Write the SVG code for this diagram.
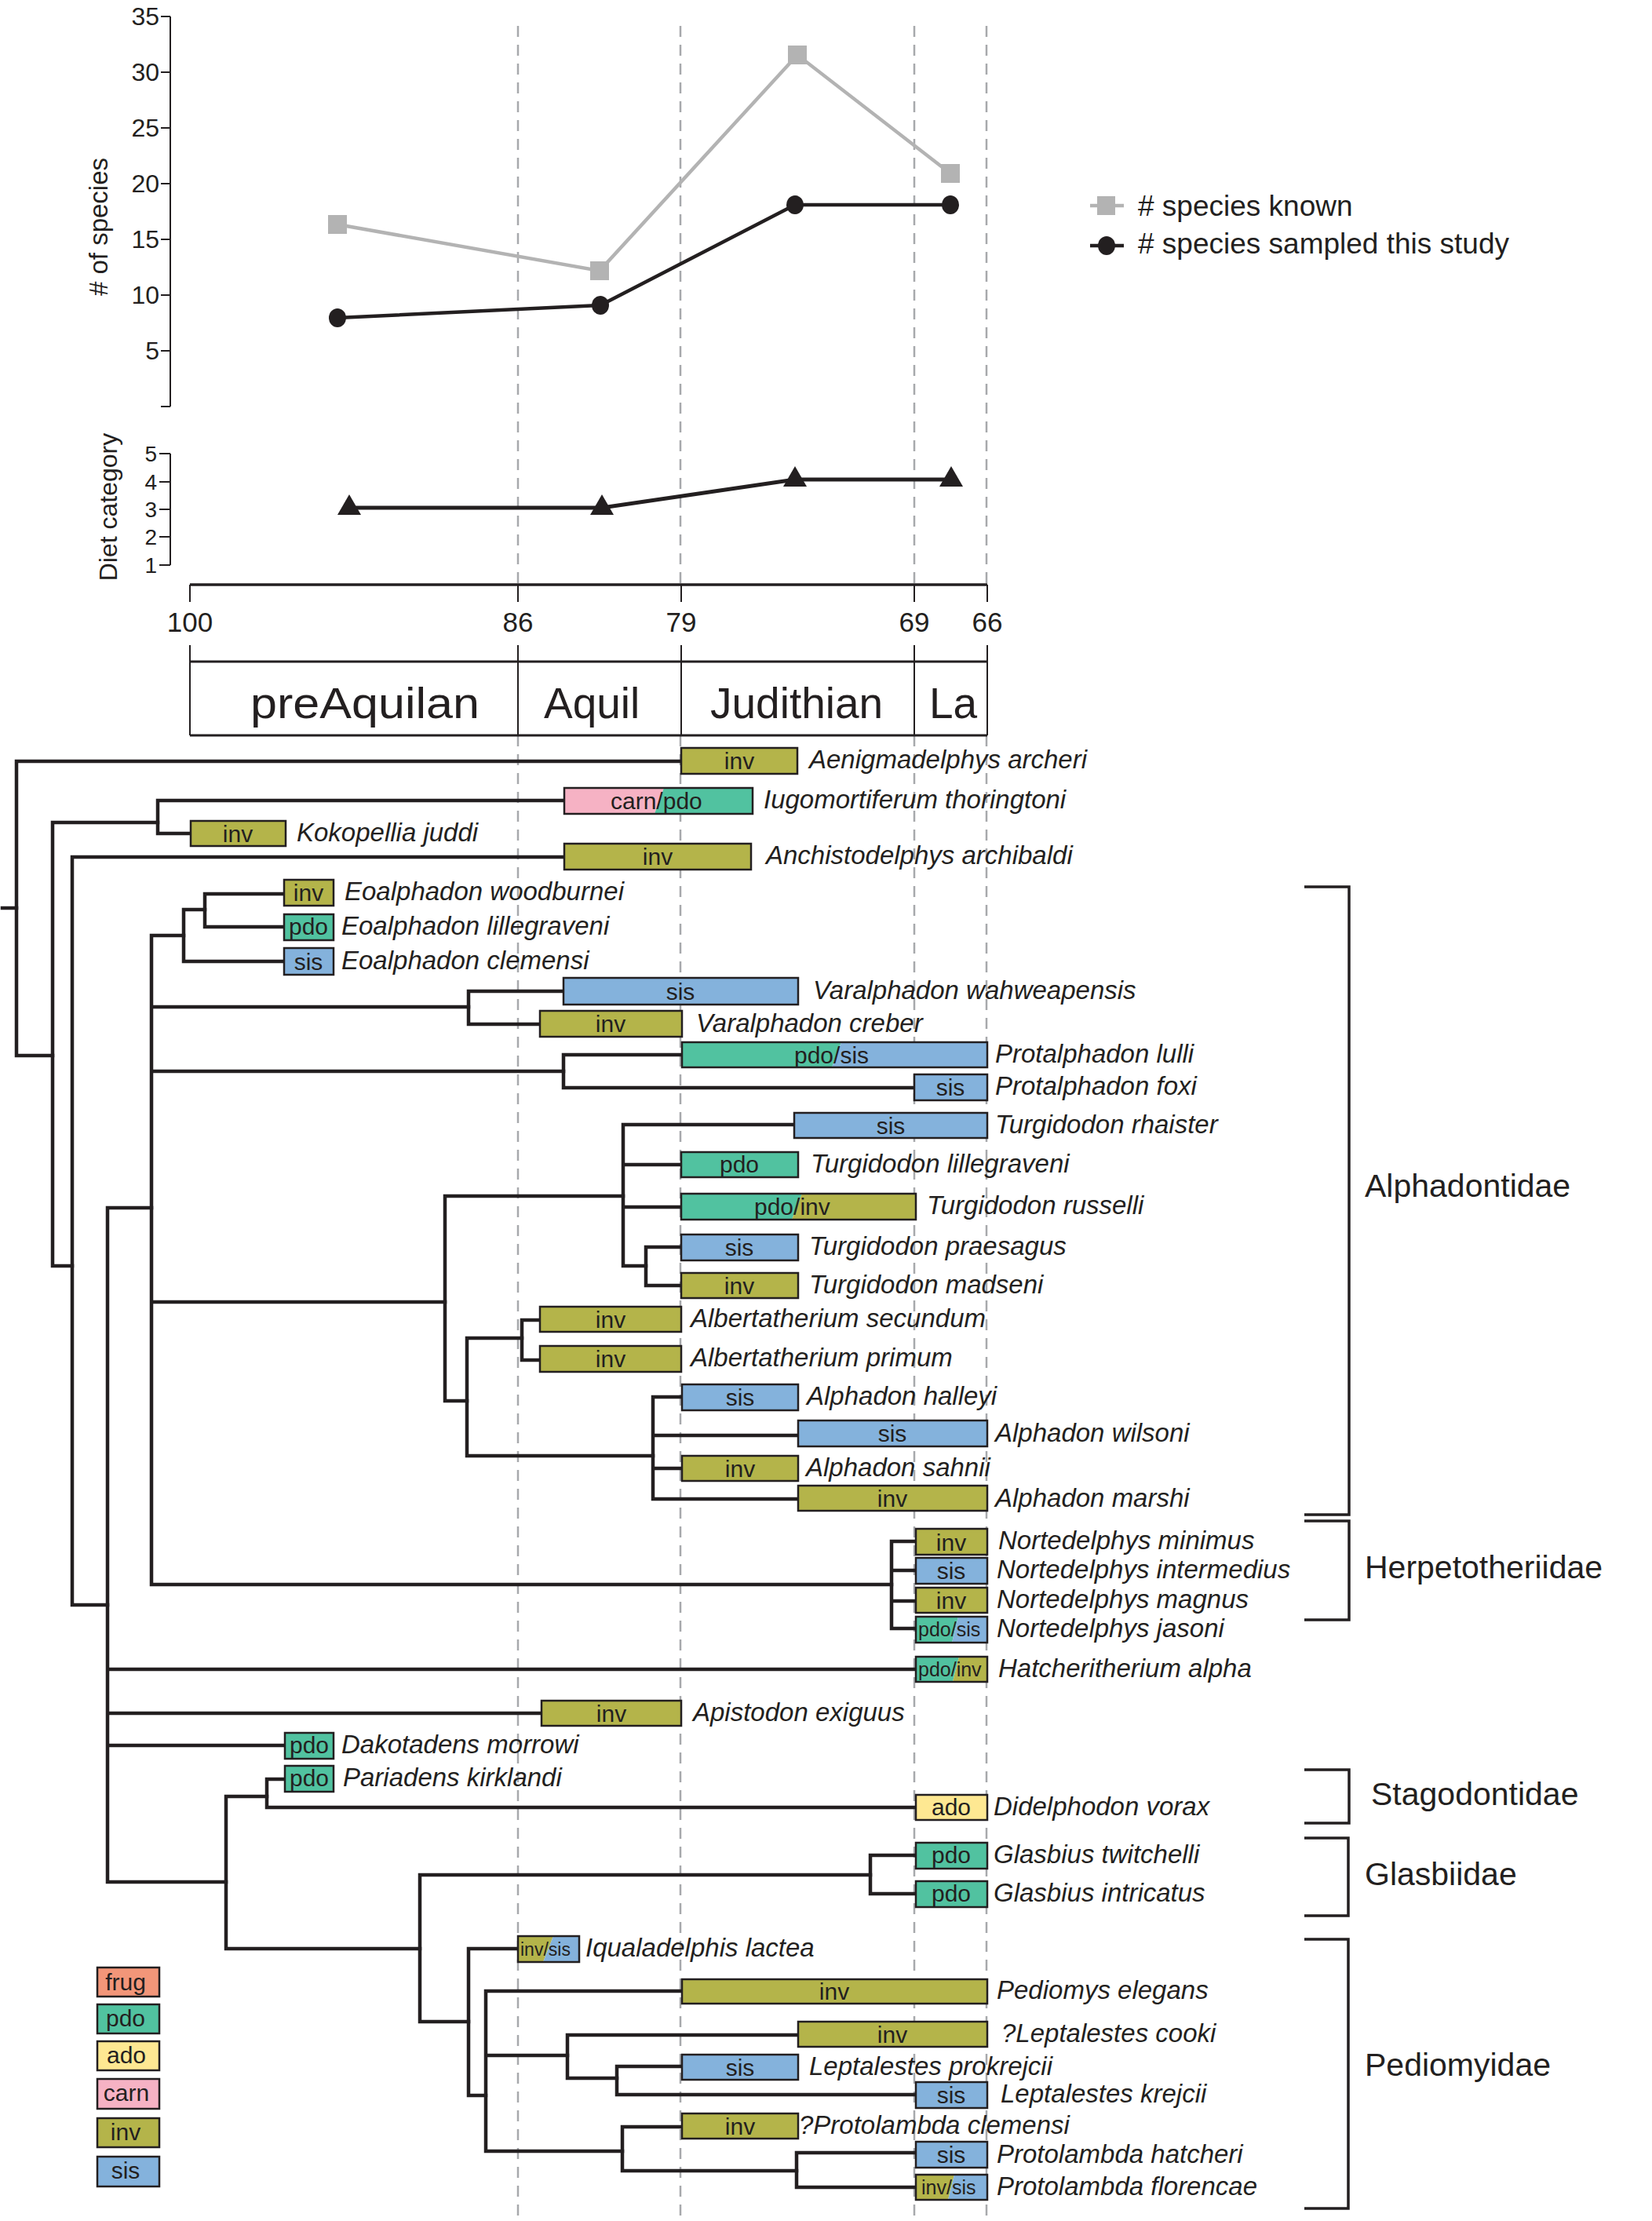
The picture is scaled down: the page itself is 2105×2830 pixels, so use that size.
<svg xmlns="http://www.w3.org/2000/svg" width="2105" height="2830" viewBox="0 0 2105 2830">
<defs>
<style>
text{font-family:"Liberation Sans",Arial,sans-serif;fill:#231f20}
.ax{stroke:#231f20;stroke-width:2;fill:none}
.dash{stroke:#a7a9ac;stroke-width:2.5;stroke-dasharray:14 10;fill:none}
.tr{stroke:#231f20;stroke-width:4.5;fill:none;stroke-linecap:square}
.bx{stroke:#231f20;stroke-width:2.5}
.ol{stroke:#231f20;stroke-width:2.5;fill:none}
.inv{fill:#b4b44a}.sis{fill:#84b2dc}.pdo{fill:#51c2a0}.ado{fill:#fee892}.carn{fill:#f6b2c4}.frug{fill:#f29679}
.bt{font-size:30px;text-anchor:middle}
.bs{font-size:25px}
.lb{font-size:33px;font-style:italic}
.grp{font-size:41px}
.tick{font-size:32px;text-anchor:end}
.dtick{font-size:28px;text-anchor:end}
.tax{font-size:35px;text-anchor:middle}
.per{font-size:55px}
.leg{font-size:37px}
.brk{stroke:#231f20;stroke-width:3.5;fill:none}
</style>
</defs>

<!-- dashed time lines -->
<g id="timelines">
<path class="dash" d="M660,33 V745 M867,33 V745 M1165,33 V745 M1257,33 V745"/>
<path class="dash" d="M660,937 V2830 M867,937 V2830 M1165,937 V2830 M1257,937 V2830"/>
</g>

<!-- species chart -->
<g id="species-chart">
<path class="ax" d="M217,21 V518 M205,21 H217 M205,92 H217 M205,163 H217 M205,234 H217 M205,305 H217 M205,376 H217 M205,447 H217 M205,518 H217"/>
<text class="tick" x="203" y="32">35</text>
<text class="tick" x="203" y="103">30</text>
<text class="tick" x="203" y="174">25</text>
<text class="tick" x="203" y="245">20</text>
<text class="tick" x="203" y="316">15</text>
<text class="tick" x="203" y="387">10</text>
<text class="tick" x="203" y="458">5</text>
<text x="137" y="289" font-size="33" text-anchor="middle" transform="rotate(-90 137 289)"># of species</text>
<polyline points="430,286 764,345 1016,70 1211,221" stroke="#b3b3b3" stroke-width="4.5" fill="none"/>
<g fill="#b3b3b3">
<rect x="418" y="274" width="24" height="24"/>
<rect x="752" y="333" width="24" height="24"/>
<rect x="1004" y="58" width="24" height="24"/>
<rect x="1199" y="209" width="24" height="24"/>
</g>
<polyline points="430,405 765,389 1013,261 1211,261" stroke="#231f20" stroke-width="4.5" fill="none"/>
<g fill="#231f20">
<ellipse cx="430" cy="405" rx="11" ry="12"/>
<ellipse cx="765" cy="389" rx="11" ry="12"/>
<ellipse cx="1013" cy="261" rx="11" ry="12"/>
<ellipse cx="1211" cy="261" rx="11" ry="12"/>
</g>
</g>

<!-- legend top -->
<g id="legend-lines">
<path d="M1389,262 H1432" stroke="#b3b3b3" stroke-width="4.5"/>
<rect x="1398" y="250" width="23" height="24" fill="#b3b3b3"/>
<text class="leg" x="1450" y="275"># species known</text>
<path d="M1389,313 H1432" stroke="#231f20" stroke-width="4.5"/>
<ellipse cx="1410" cy="313" rx="11" ry="12" fill="#231f20"/>
<text class="leg" x="1450" y="323"># species sampled this study</text>
</g>

<!-- diet chart -->
<g id="diet-chart">
<path class="ax" d="M217,578 V720 M203,578 H217 M203,614 H217 M203,649 H217 M203,684 H217 M203,720 H217"/>
<text class="dtick" x="200" y="588">5</text>
<text class="dtick" x="200" y="624">4</text>
<text class="dtick" x="200" y="659">3</text>
<text class="dtick" x="200" y="694">2</text>
<text class="dtick" x="200" y="730">1</text>
<text x="149" y="646" font-size="32" text-anchor="middle" transform="rotate(-90 149 646)">Diet category</text>
<polyline points="445,647 767,647 1013,611 1212,611" stroke="#231f20" stroke-width="5" fill="none"/>
<g fill="#231f20">
<polygon points="445,630 430,656 460,656"/>
<polygon points="767,630 752,656 782,656"/>
<polygon points="1013,594 998,620 1028,620"/>
<polygon points="1212,594 1197,620 1227,620"/>
</g>
</g>

<!-- time axis -->
<g id="time-axis">
<path d="M242,745 H1258" stroke="#231f20" stroke-width="3.5"/>
<path class="ax" d="M242,745 V767 M660,745 V767 M868,745 V767 M1165,745 V767 M1258,745 V767"/>
<text class="tax" x="242" y="805">100</text>
<text class="tax" x="660" y="805">86</text>
<text class="tax" x="868" y="805">79</text>
<text class="tax" x="1165" y="805">69</text>
<text class="tax" x="1258" y="805">66</text>
</g>

<!-- period box -->
<g id="periods">
<path d="M242,843 H1258 M242,937 H1258" stroke="#231f20" stroke-width="3"/>
<path class="ax" d="M242,822 V937 M660,822 V937 M868,822 V937 M1165,822 V937 M1258,822 V937"/>
<text class="per" x="319" y="915" textLength="292" lengthAdjust="spacingAndGlyphs">preAquilan</text>
<text class="per" x="693" y="915">Aquil</text>
<text class="per" x="905" y="915">Judithian</text>
<text class="per" x="1184" y="915">La</text>
</g>

<!-- connectors -->
<g id="connectors" class="tr">
<path d="M3,1157 H21"/>
<path d="M868,970 H21 V1345 H67"/>
<path d="M201,1048 H67 V1613 H92"/>
<path d="M719,1020 H201 V1062 H243"/>
<path d="M719,1092 H92 V2045 H137"/>
<path d="M193,1539 H137 V2398 H288 M137,2127 H1167 M137,2183 H690 M137,2224 H363"/>
<path d="M234,1192 H193 V2019 H1136 M193,1283 H597 M193,1365 H718 M193,1659 H567"/>
<path d="M261,1159 H234 V1225 H362"/>
<path d="M362,1139 H261 V1181 H362"/>
<path d="M718,1263 H597 V1305 H688"/>
<path d="M869,1344 H718 V1386 H1165"/>
<path d="M794,1524 H567 V1785 H595"/>
<path d="M1012,1433 H794 V1613 H823 M794,1484 H868 M794,1538 H868"/>
<path d="M868,1589 H823 V1638 H868"/>
<path d="M665,1705 H595 V1855 H832"/>
<path d="M688,1682 H665 V1733 H688"/>
<path d="M869,1780 H832 V1910 H1017 M832,1829 H1017 M832,1871 H869"/>
<path d="M1167,1964 H1136 V2075 H1167 M1136,2001 H1167 M1136,2040 H1167"/>
<path d="M340,2289 H288 V2483 H535"/>
<path d="M363,2267 H340 V2303 H1167"/>
<path d="M1109,2389 H535 V2576 H597"/>
<path d="M1167,2364 H1109 V2413 H1167"/>
<path d="M660,2483 H597 V2670 H619"/>
<path d="M869,2537 H619 V2741 H793 M619,2619 H723"/>
<path d="M1017,2593 H723 V2648 H786"/>
<path d="M869,2633 H786 V2669 H1167"/>
<path d="M869,2710 H793 V2766 H1015"/>
<path d="M1167,2743 H1015 V2787 H1167"/>
</g>

<!-- tips -->
<g id="aenigmadelphys-archeri"><rect class="bx inv" x="868" y="953" width="148" height="33"/><text class="bt" x="942" y="980">inv</text><text class="lb" x="1031" y="979">Aenigmadelphys archeri</text></g>
<g id="iugomortiferum-thoringtoni"><polygon class="carn" points="719,1004 846,1004 834,1037 719,1037"/><polygon class="pdo" points="846,1004 959,1004 959,1037 834,1037"/><rect class="ol" x="719" y="1004" width="240" height="33"/><text x="778" y="1031" font-size="30">carn/pdo</text><text class="lb" x="973" y="1030">Iugomortiferum thoringtoni</text></g>
<g id="kokopellia-juddi"><rect class="bx inv" x="243" y="1046" width="121" height="32"/><text class="bt" x="303" y="1073">inv</text><text class="lb" x="378" y="1072">Kokopellia juddi</text></g>
<g id="anchistodelphys-archibaldi"><rect class="bx inv" x="719" y="1075" width="238" height="33"/><text class="bt" x="838" y="1102">inv</text><text class="lb" x="976" y="1101">Anchistodelphys archibaldi</text></g>
<g id="eoalphadon-woodburnei"><rect class="bx inv" x="362" y="1121" width="63" height="33"/><text class="bt" x="393" y="1148">inv</text><text class="lb" x="439" y="1147">Eoalphadon woodburnei</text></g>
<g id="eoalphadon-lillegraveni"><rect class="bx pdo" x="362" y="1165" width="63" height="33"/><text class="bt" x="393" y="1191">pdo</text><text class="lb" x="435" y="1191">Eoalphadon lillegraveni</text></g>
<g id="eoalphadon-clemensi"><rect class="bx sis" x="362" y="1208" width="63" height="34"/><text class="bt" x="393" y="1236">sis</text><text class="lb" x="435" y="1235">Eoalphadon clemensi</text></g>
<g id="varalphadon-wahweapensis"><rect class="bx sis" x="718" y="1246" width="299" height="34"/><text class="bt" x="867" y="1274">sis</text><text class="lb" x="1036" y="1273">Varalphadon wahweapensis</text></g>
<g id="varalphadon-creber"><rect class="bx inv" x="688" y="1288" width="181" height="33"/><text class="bt" x="778" y="1315">inv</text><text class="lb" x="887" y="1315">Varalphadon creber</text></g>
<g id="protalphadon-lulli"><polygon class="pdo" points="869,1328 1072,1328 1060,1360 869,1360"/><polygon class="sis" points="1072,1328 1258,1328 1258,1360 1060,1360"/><rect class="ol" x="869" y="1328" width="389" height="32"/><text x="1012" y="1355" font-size="30">pdo/sis</text><text class="lb" x="1268" y="1354">Protalphadon lulli</text></g>
<g id="protalphadon-foxi"><rect class="bx sis" x="1165" y="1369" width="93" height="33"/><text class="bt" x="1211" y="1396">sis</text><text class="lb" x="1268" y="1395">Protalphadon foxi</text></g>
<g id="turgidodon-rhaister"><rect class="bx sis" x="1012" y="1418" width="246" height="32"/><text class="bt" x="1135" y="1445">sis</text><text class="lb" x="1268" y="1444">Turgidodon rhaister</text></g>
<g id="turgidodon-lillegraveni"><rect class="bx pdo" x="868" y="1468" width="149" height="32"/><text class="bt" x="942" y="1494">pdo</text><text class="lb" x="1033" y="1494">Turgidodon lillegraveni</text></g>
<g id="turgidodon-russelli"><polygon class="pdo" points="868,1521 1022,1521 1009,1554 868,1554"/><polygon class="inv" points="1022,1521 1167,1521 1167,1554 1009,1554"/><rect class="ol" x="868" y="1521" width="299" height="33"/><text x="961" y="1548" font-size="30">pdo/inv</text><text class="lb" x="1181" y="1547">Turgidodon russelli</text></g>
<g id="turgidodon-praesagus"><rect class="bx sis" x="868" y="1573" width="149" height="33"/><text class="bt" x="942" y="1600">sis</text><text class="lb" x="1031" y="1599">Turgidodon praesagus</text></g>
<g id="turgidodon-madseni"><rect class="bx inv" x="868" y="1622" width="149" height="32"/><text class="bt" x="942" y="1649">inv</text><text class="lb" x="1031" y="1648">Turgidodon madseni</text></g>
<g id="albertatherium-secundum"><rect class="bx inv" x="688" y="1665" width="180" height="32"/><text class="bt" x="778" y="1692">inv</text><text class="lb" x="880" y="1691">Albertatherium secundum</text></g>
<g id="albertatherium-primum"><rect class="bx inv" x="688" y="1715" width="180" height="33"/><text class="bt" x="778" y="1742">inv</text><text class="lb" x="880" y="1741">Albertatherium primum</text></g>
<g id="alphadon-halleyi"><rect class="bx sis" x="869" y="1764" width="148" height="33"/><text class="bt" x="943" y="1791">sis</text><text class="lb" x="1028" y="1790">Alphadon halleyi</text></g>
<g id="alphadon-wilsoni"><rect class="bx sis" x="1017" y="1810" width="241" height="33"/><text class="bt" x="1137" y="1837">sis</text><text class="lb" x="1268" y="1837">Alphadon wilsoni</text></g>
<g id="alphadon-sahnii"><rect class="bx inv" x="869" y="1855" width="148" height="32"/><text class="bt" x="943" y="1882">inv</text><text class="lb" x="1027" y="1881">Alphadon sahnii</text></g>
<g id="alphadon-marshi"><rect class="bx inv" x="1017" y="1893" width="241" height="32"/><text class="bt" x="1137" y="1920">inv</text><text class="lb" x="1268" y="1920">Alphadon marshi</text></g>
<g id="nortedelphys-minimus"><rect class="bx inv" x="1167" y="1948" width="91" height="33"/><text class="bt" x="1212" y="1976">inv</text><text class="lb" x="1272" y="1974">Nortedelphys minimus</text></g>
<g id="nortedelphys-intermedius"><rect class="bx sis" x="1167" y="1985" width="91" height="33"/><text class="bt" x="1212" y="2012">sis</text><text class="lb" x="1270" y="2011">Nortedelphys intermedius</text></g>
<g id="nortedelphys-magnus"><rect class="bx inv" x="1167" y="2023" width="91" height="32"/><text class="bt" x="1212" y="2050">inv</text><text class="lb" x="1270" y="2049">Nortedelphys magnus</text></g>
<g id="nortedelphys-jasoni"><polygon class="pdo" points="1167,2060 1221,2060 1213,2093 1167,2093"/><polygon class="sis" points="1221,2060 1258,2060 1258,2093 1213,2093"/><rect class="ol" x="1167" y="2060" width="91" height="33"/><text class="bs" x="1170" y="2085">pdo/sis</text><text class="lb" x="1270" y="2086">Nortedelphys jasoni</text></g>
<g id="hatcheritherium-alpha"><polygon class="pdo" points="1167,2111 1222,2111 1214,2143 1167,2143"/><polygon class="inv" points="1222,2111 1258,2111 1258,2143 1214,2143"/><rect class="ol" x="1167" y="2111" width="91" height="32"/><text class="bs" x="1170" y="2136">pdo/inv</text><text class="lb" x="1272" y="2137">Hatcheritherium alpha</text></g>
<g id="apistodon-exiguus"><rect class="bx inv" x="690" y="2167" width="178" height="32"/><text class="bt" x="779" y="2194">inv</text><text class="lb" x="883" y="2193">Apistodon exiguus</text></g>
<g id="dakotadens-morrowi"><rect class="bx pdo" x="363" y="2208" width="62" height="33"/><text class="bt" x="394" y="2234">pdo</text><text class="lb" x="435" y="2234">Dakotadens morrowi</text></g>
<g id="pariadens-kirklandi"><rect class="bx pdo" x="363" y="2250" width="62" height="33"/><text class="bt" x="394" y="2276">pdo</text><text class="lb" x="437" y="2276">Pariadens kirklandi</text></g>
<g id="didelphodon-vorax"><rect class="bx ado" x="1167" y="2287" width="91" height="32"/><text class="bt" x="1212" y="2313">ado</text><text class="lb" x="1266" y="2313">Didelphodon vorax</text></g>
<g id="glasbius-twitchelli"><rect class="bx pdo" x="1167" y="2348" width="91" height="33"/><text class="bt" x="1212" y="2374">pdo</text><text class="lb" x="1266" y="2374">Glasbius twitchelli</text></g>
<g id="glasbius-intricatus"><rect class="bx pdo" x="1167" y="2397" width="91" height="33"/><text class="bt" x="1212" y="2423">pdo</text><text class="lb" x="1266" y="2423">Glasbius intricatus</text></g>
<g id="iqualadelphis-lactea"><polygon class="inv" points="660,2467 705,2467 692,2500 660,2500"/><polygon class="sis" points="705,2467 738,2467 738,2500 692,2500"/><rect class="ol" x="660" y="2467" width="78" height="33"/><text x="663" y="2492" font-size="23">inv/sis</text><text class="lb" x="746" y="2493">Iqualadelphis lactea</text></g>
<g id="pediomys-elegans"><rect class="bx inv" x="869" y="2522" width="389" height="31"/><text class="bt" x="1063" y="2548">inv</text><text class="lb" x="1270" y="2547">Pediomys elegans</text></g>
<g id="leptalestes-cooki"><rect class="bx inv" x="1017" y="2576" width="241" height="32"/><text class="bt" x="1137" y="2603">inv</text><text class="lb" x="1276" y="2602">?Leptalestes cooki</text></g>
<g id="leptalestes-prokrejcii"><rect class="bx sis" x="869" y="2618" width="148" height="32"/><text class="bt" x="943" y="2645">sis</text><text class="lb" x="1031" y="2644">Leptalestes prokrejcii</text></g>
<g id="leptalestes-krejcii"><rect class="bx sis" x="1167" y="2653" width="91" height="33"/><text class="bt" x="1212" y="2680">sis</text><text class="lb" x="1275" y="2679">Leptalestes krejcii</text></g>
<g id="protolambda-clemensi"><rect class="bx inv" x="869" y="2693" width="148" height="32"/><text class="bt" x="943" y="2720">inv</text><text class="lb" x="1018" y="2719">?Protolambda clemensi</text></g>
<g id="protolambda-hatcheri"><rect class="bx sis" x="1167" y="2729" width="91" height="33"/><text class="bt" x="1212" y="2756">sis</text><text class="lb" x="1270" y="2756">Protolambda hatcheri</text></g>
<g id="protolambda-florencae"><polygon class="inv" points="1167,2771 1216,2771 1208,2803 1167,2803"/><polygon class="sis" points="1216,2771 1258,2771 1258,2803 1208,2803"/><rect class="ol" x="1167" y="2771" width="91" height="32"/><text class="bs" x="1174" y="2796">inv/sis</text><text class="lb" x="1270" y="2797">Protolambda florencae</text></g>

<!-- group brackets -->
<g id="alphadontidae"><path class="brk" d="M1662,1130 H1719 V1930 H1662"/><text class="grp" x="1739" y="1525">Alphadontidae</text></g>
<g id="herpetotheriidae"><path class="brk" d="M1662,1938 H1719 V2064 H1662"/><text class="grp" x="1739" y="2011">Herpetotheriidae</text></g>
<g id="stagodontidae"><path class="brk" d="M1662,2255 H1719 V2323 H1662"/><text class="grp" x="1747" y="2300">Stagodontidae</text></g>
<g id="glasbiidae"><path class="brk" d="M1662,2342 H1718 V2441 H1662"/><text class="grp" x="1739" y="2402">Glasbiidae</text></g>
<g id="pediomyidae"><path class="brk" d="M1662,2471 H1718 V2814 H1662"/><text class="grp" x="1739" y="2645">Pediomyidae</text></g>

<!-- diet legend -->
<g id="diet-legend">
<rect class="bx frug" x="124" y="2507" width="79" height="37"/><text class="bt" x="160" y="2536">frug</text>
<rect class="bx pdo" x="124" y="2554" width="79" height="37"/><text class="bt" x="160" y="2582">pdo</text>
<rect class="bx ado" x="124" y="2601" width="79" height="37"/><text class="bt" x="161" y="2629">ado</text>
<rect class="bx carn" x="124" y="2649" width="79" height="38"/><text class="bt" x="161" y="2677">carn</text>
<rect class="bx inv" x="124" y="2699" width="79" height="37"/><text class="bt" x="160" y="2727">inv</text>
<rect class="bx sis" x="124" y="2748" width="79" height="38"/><text class="bt" x="160" y="2776">sis</text>
</g>
</svg>
